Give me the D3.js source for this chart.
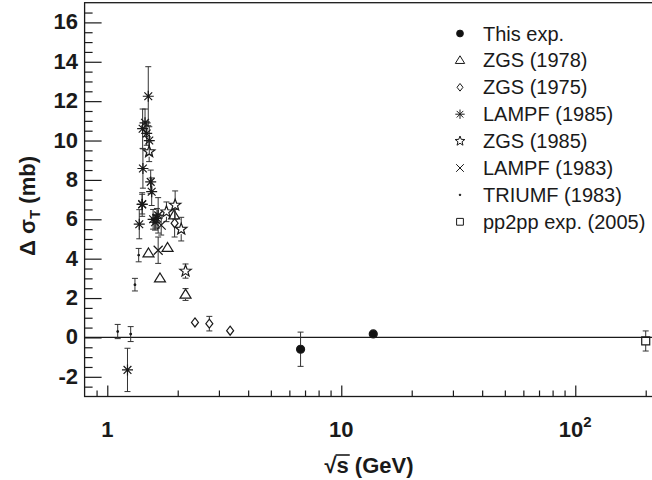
<!DOCTYPE html>
<html>
<head>
<meta charset="utf-8">
<script src="https://cdn.jsdelivr.net/npm/d3@7"></script>
<style>
  body { margin: 0; background: #fff; }
  svg { display: block; font-family: "Liberation Sans", Arial, Helvetica, sans-serif; }
</style>
</head>
<body>
<svg id="chart" width="652" height="480"></svg>
<script>
// data: sqrt(s) in GeV, delta sigma_T in mb, error in mb
const thisExpX = [6.7, 13.7];
const thisExpY = [-0.6, 0.18];
const thisExpErr = [0.87, 0.08];

const zgs1978X = [1.50, 1.68, 1.81, 1.93, 2.16];
const zgs1978Y = [4.27, 3.0, 4.55, 6.2, 2.18];
const zgs1978Err = [0.15, 0.2, 0.15, 0.2, 0.3];

const zgs1975X = [1.94, 2.37, 2.73, 3.35];
const zgs1975Y = [5.8, 0.76, 0.7, 0.34];
const zgs1975Err = [0.7, 0.15, 0.37, 0.1];

const lampf1985X = [1.22, 1.37, 1.41, 1.42, 1.416, 1.45, 1.474, 1.497, 1.512, 1.533, 1.548, 1.57, 1.60, 1.63, 1.65, 1.41];
const lampf1985Y = [-1.65, 5.75, 6.77, 8.58, 10.6, 10.9, 10.36, 12.25, 10.0, 7.9, 7.4, 6.0, 5.85, 6.05, 6.2, 6.75];
const lampf1985Err = [1.1, 0.74, 0.5, 1.0, 1.0, 0.7, 0.6, 1.5, 0.7, 0.6, 0.7, 0.5, 0.4, 0.5, 0.9, 0.6];

const zgs1985X = [1.51, 1.79, 1.95, 2.07, 2.16];
const zgs1985Y = [9.43, 6.38, 6.72, 5.5, 3.37];
const zgs1985Err = [0.5, 0.5, 0.72, 0.6, 0.36];

const lampf1983X = [1.65, 1.70];
const lampf1983Y = [4.43, 5.7];
const lampf1983Err = [0.67, 0.5];

const triumfX = [1.108, 1.259, 1.313, 1.362];
const triumfY = [0.3, 0.17, 2.68, 4.18];
const triumfErr = [0.36, 0.38, 0.32, 0.34];

const pp2ppX = [200];
const pp2ppY = [-0.18];
const pp2ppErr = [0.51];

const legendLabels = ["This exp.", "ZGS (1978)", "ZGS (1975)", "LAMPF (1985)", "ZGS (1985)", "LAMPF (1983)", "TRIUMF (1983)", "pp2pp exp. (2005)"];
const yTickLabels = [-2, 0, 2, 4, 6, 8, 10, 12, 14, 16];
const xTickLabels = [1, 10, 100];

// marker shapes (ROOT-like)
function asteriskPath(r) {
    const d = r * 0.707;
    return `M${-r},0H${r}M0,${-r}V${r}M${-d},${-d}L${d},${d}M${-d},${d}L${d},${-d}`;
}
function timesPath(r) {
    return `M${-r},${-r}L${r},${r}M${-r},${r}L${r},${-r}`;
}
function starPath(R) {
    const ri = R * 0.42;
    let p = [];
    for (let i = 0; i < 10; i++) {
        const a = -Math.PI / 2 + i * Math.PI / 5;
        const rr = i % 2 === 0 ? R : ri;
        p.push([rr * Math.cos(a), rr * Math.sin(a)]);
    }
    return "M" + p.map(q => q[0].toFixed(2) + "," + q[1].toFixed(2)).join("L") + "Z";
}
function trianglePath(w, h) {
    return `M0,${-h * 0.6}L${w / 2},${h * 0.4}L${-w / 2},${h * 0.4}Z`;
}
function diamondPath(w, h) {
    return `M0,${-h / 2}L${w / 2},0L0,${h / 2}L${-w / 2},0Z`;
}

const series = [
    { xs: thisExpX, ys: thisExpY, errs: thisExpErr, path: s => d3.symbol(d3.symbolCircle, Math.PI * 16 * s * s)(), fill: "#111", gap: 4 },
    { xs: zgs1978X, ys: zgs1978Y, errs: zgs1978Err, path: s => trianglePath(11 * s, 9 * s), fill: "none", gap: 4.5 },
    { xs: zgs1975X, ys: zgs1975Y, errs: zgs1975Err, path: s => diamondPath(7 * s, 9 * s), fill: "none", gap: 4.5 },
    { xs: lampf1985X, ys: lampf1985Y, errs: lampf1985Err, path: s => asteriskPath(5.5 * s), fill: "none", gap: 0 },
    { xs: zgs1985X, ys: zgs1985Y, errs: zgs1985Err, path: s => starPath(6 * s), fill: "none", gap: 5 },
    { xs: lampf1983X, ys: lampf1983Y, errs: lampf1983Err, path: s => timesPath(4.5 * s), fill: "none", gap: 0 },
    { xs: triumfX, ys: triumfY, errs: triumfErr, path: s => d3.symbol(d3.symbolCircle, 2)(), fill: "#111", gap: 0 },
    { xs: pp2ppX, ys: pp2ppY, errs: pp2ppErr, path: s => d3.symbol(d3.symbolSquare, 64 * s * s)(), fill: "none", gap: 4 }
];

const svg = d3.select("#chart");
const x = d3.scaleLog().domain([0.8, 220]).range([84.6, 655.4]);
const y = d3.scaleLinear().domain([-3, 17]).range([396.5, 2.7]);
const ink = "#1a1a1a";

// frame
svg.append("rect")
    .attr("x", x(0.8)).attr("y", y(17))
    .attr("width", x(220) - x(0.8)).attr("height", y(-3) - y(17))
    .attr("fill", "none").attr("stroke", ink).attr("stroke-width", 1.3);

// x axis ticks (pointing up into the frame)
const xAxis = svg.append("g")
    .attr("transform", `translate(0,${y(-3)})`)
    .call(d3.axisTop(x).tickValues(x.ticks().filter(v => v > 0.85)).tickSize(11).tickFormat(""));
xAxis.select(".domain").remove();
xAxis.selectAll(".tick line")
    .attr("stroke", ink).attr("stroke-width", 1.2)
    .attr("y2", d => xTickLabels.includes(d) ? -11 : -6);

// y axis ticks (pointing right into the frame)
const yAxis = svg.append("g")
    .attr("transform", `translate(${x(0.8)},0)`)
    .call(d3.axisRight(y).tickValues(d3.range(-2.5, 17, 0.5)).tickSize(17).tickFormat(""));
yAxis.select(".domain").remove();
yAxis.selectAll(".tick line")
    .attr("stroke", ink).attr("stroke-width", 1.2)
    .attr("x2", d => Math.abs(d % 2) < 1e-9 ? 17 : 8);

// tick labels
svg.append("g").selectAll("text")
    .data(yTickLabels)
    .enter().append("text")
    .attr("x", 78).attr("y", d => y(d) + 7)
    .attr("text-anchor", "end")
    .attr("font-size", 22).attr("font-weight", "bold").attr("fill", ink)
    .text(d => d);

const xLab = svg.append("g").selectAll("text")
    .data(xTickLabels)
    .enter().append("text")
    .attr("x", d => x(d)).attr("y", 437)
    .attr("text-anchor", "middle")
    .attr("font-size", 22).attr("font-weight", "bold").attr("fill", ink);
xLab.append("tspan").text(d => d === 100 ? "10" : d);
xLab.filter(d => d === 100).append("tspan")
    .attr("dy", -10).attr("font-size", 15).text("2");

// axis titles
const yTitle = svg.append("text")
    .attr("transform", "translate(35,206) rotate(-90)")
    .attr("text-anchor", "middle")
    .attr("font-size", 22).attr("font-weight", "bold").attr("fill", ink);
yTitle.append("tspan").text("\u0394 \u03c3");
yTitle.append("tspan").attr("dy", 5).attr("font-size", 15).text("T");
yTitle.append("tspan").attr("dy", -5).text(" (mb)");

const xTitle = svg.append("text")
    .attr("x", 369).attr("y", 473)
    .attr("text-anchor", "middle")
    .attr("font-size", 22).attr("font-weight", "bold").attr("fill", ink)
    .text("\u221as (GeV)");
// overline of the square root over "s"
const sBox = xTitle.node().getExtentOfChar(1);
const rootBox = xTitle.node().getExtentOfChar(0);
svg.append("line")
    .attr("x1", rootBox.x + rootBox.width - 1).attr("x2", sBox.x + sBox.width + 1)
    .attr("y1", 473 - 18).attr("y2", 473 - 18)
    .attr("stroke", ink).attr("stroke-width", 1.6);

// zero line
svg.append("line")
    .attr("x1", x(0.8)).attr("x2", x(220))
    .attr("y1", y(0)).attr("y2", y(0))
    .attr("stroke", ink).attr("stroke-width", 1.2);

// error bars then markers
const plot = svg.append("g");
series.forEach(s => {
    const pts = s.xs.map((v, i) => ({ x: v, y: s.ys[i], e: s.errs[i] }));
    const bars = plot.append("g").attr("stroke", "#333").attr("stroke-width", 1).attr("fill", "none");
    pts.forEach(p => {
        const px = x(p.x), top = y(p.y + p.e), bot = y(p.y - p.e), cy = y(p.y);
        if (cy - top > s.gap) bars.append("line").attr("x1", px).attr("x2", px).attr("y1", top).attr("y2", cy - s.gap);
        if (bot - cy > s.gap) bars.append("line").attr("x1", px).attr("x2", px).attr("y1", cy + s.gap).attr("y2", bot);
        if (cy - top > s.gap + 1) {
            bars.append("line").attr("x1", px - 3).attr("x2", px + 3).attr("y1", top).attr("y2", top);
            bars.append("line").attr("x1", px - 3).attr("x2", px + 3).attr("y1", bot).attr("y2", bot);
        }
    });
    plot.append("g").selectAll("path")
        .data(pts)
        .enter().append("path")
        .attr("transform", p => `translate(${x(p.x)},${y(p.y)})`)
        .attr("d", s.path(1))
        .attr("fill", s.fill)
        .attr("stroke", ink).attr("stroke-width", 1.2);
});

// legend
const legend = svg.append("g");
legendLabels.forEach((label, i) => {
    const ly = 33.5 + i * 26.9;
    legend.append("path")
        .attr("transform", `translate(460,${ly})`)
        .attr("d", series[i].path(0.85))
        .attr("fill", series[i].fill)
        .attr("stroke", ink).attr("stroke-width", 1);
    legend.append("text")
        .attr("x", 483).attr("y", ly + 7)
        .attr("font-size", 20).attr("fill", ink)
        .text(label);
});
</script>
</body>
</html>
